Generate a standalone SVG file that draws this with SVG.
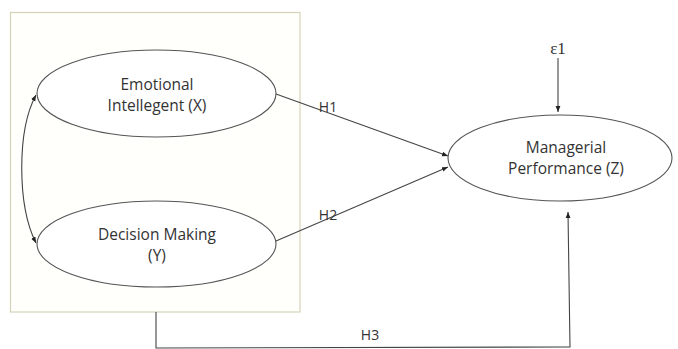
<svg xmlns="http://www.w3.org/2000/svg" width="678" height="349" viewBox="0 0 678 349">
<style>
.node ellipse{fill:#ffffff;stroke:#555;stroke-width:1.1}
.lbl{font-family:"Open Sans","Liberation Sans",sans-serif;font-size:15.5px;fill:#333;text-anchor:middle}
.conn{fill:none;stroke:#444;stroke-width:1.1}
.hl{font-family:"Open Sans","Liberation Sans",sans-serif;font-size:14px;fill:#333;text-anchor:middle}
</style>
<defs>
<marker id="ah" viewBox="0 0 10 10" refX="10" refY="5" markerWidth="6" markerHeight="6" orient="auto-start-reverse" markerUnits="userSpaceOnUse">
<path d="M0,1 L10,5 L0,9 z" fill="#222"/>
</marker>
</defs>
<rect x="0" y="0" width="678" height="349" fill="#ffffff"/>
<rect id="frame" x="10.5" y="12.5" width="289.5" height="299.5" fill="#fffffc" stroke="#d6d2b8" stroke-width="1.2"/>
<g id="connectors">
<path class="conn" d="M36,95 C17,130 17,205 36,243" marker-start="url(#ah)" marker-end="url(#ah)"/>
<line class="conn" x1="276" y1="94" x2="448" y2="156" marker-end="url(#ah)"/>
<line class="conn" x1="276" y1="241" x2="448" y2="167" marker-end="url(#ah)"/>
<line class="conn" x1="558" y1="58" x2="558" y2="112" marker-end="url(#ah)"/>
<polyline class="conn" points="156,312 156,348 570,347 568,212" marker-end="url(#ah)"/>
<text class="hl" x="328" y="112">H1</text>
<text class="hl" x="328" y="220">H2</text>
<text class="hl" x="370" y="340">H3</text>
</g>
<g id="emotional" class="node">
<ellipse cx="156.5" cy="93.5" rx="119.5" ry="43.5"/>
<text class="lbl" x="157" y="90">Emotional</text>
<text class="lbl" x="157" y="111">Intellegent (X)</text>
</g>
<g id="decision" class="node">
<ellipse cx="156.5" cy="244" rx="119.5" ry="43"/>
<text class="lbl" x="157" y="240">Decision Making</text>
<text class="lbl" x="157" y="261">(Y)</text>
</g>
<g id="managerial" class="node">
<ellipse cx="560" cy="158" rx="112" ry="43"/>
<text class="lbl" x="566" y="153">Managerial</text>
<text class="lbl" x="566" y="174">Performance (Z)</text>
</g>
<g id="error">
<text x="558" y="54" font-family="Liberation Serif,serif" font-size="17" fill="#333" text-anchor="middle">ε1</text>
</g>
</svg>
